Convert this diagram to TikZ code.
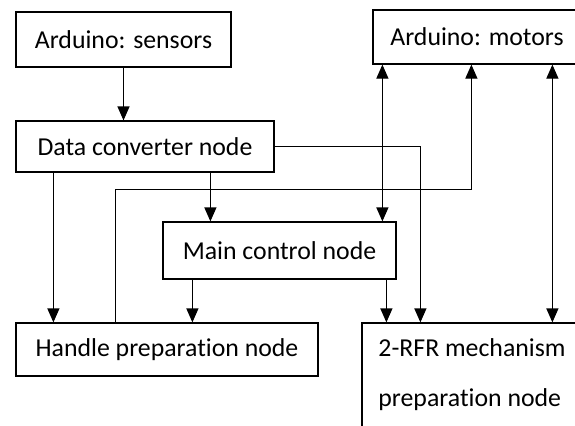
\documentclass[tikz,border=0pt]{standalone}
\usepackage{fontspec}
\setmainfont{Carlito}[Ligatures=NoCommon]
\usetikzlibrary{arrows.meta}
\usetikzlibrary{calc}
\begin{document}
\begin{tikzpicture}[x=0.5pt,y=-0.5pt,->,>={Triangle[width=6pt,length=7pt]},line width=0.6pt]
		\tikzstyle{box}=[rectangle,draw,-,inner sep=0pt,font=\fontsize{12.9}{15.5}\selectfont];
		\clip(0,0)rectangle(575,425);
		\node[box,minimum width=107.5pt,minimum height=27.5pt] at (123.5,39.5)(sens){Arduino: sensors};
		\node[box,minimum width=129pt,minimum height=25.5pt] at (145,146.5)(conv){Data converter node};
		\node[box,minimum width=104pt,minimum height=27pt] at (477,37)(motors){Arduino: motors};
		\node[box,minimum width=116.5pt,minimum height=28.5pt] at (279.5,250.5)(main){Main control node};
		\node[box,minimum width=151pt,minimum height=26.5pt] at (167,349.5)(handle){Handle preparation node};
		\node[box,minimum width=110pt,minimum height=52pt,align=left] at (472,375)(rfr){2-RFR mechanism\\[9.5pt]preparation node};

		\draw(sens.south)--(sens.south|-conv.north);
		\draw(conv.east)-|($(rfr.north west)+(59,0)$);
		\draw($(conv.south west)+(38,0)$)--($(handle.north west)+(38,0)$);
		\draw($(conv.south west)+(195,0)$)--($(main.north west)+(48,0)$);
		\draw($(handle.north west)+(100,0)$)--++(0,-133)-|($(motors.south west)+(99,0)$);
		\draw[<->]($(main.north west)+(220,0)$)--($(motors.south west)+(10,0)$);
		\draw[<->]($(rfr.north west)+(191,0)$)--($(motors.south west)+(180,0)$);
		\draw($(main.south west)+(30,0)$)--($(handle.north west)+(177,0)$);
		\draw($(main.south west)+(224,0)$)--($(rfr.north west)+(25,0)$);
	\end{tikzpicture}
\end{document}
